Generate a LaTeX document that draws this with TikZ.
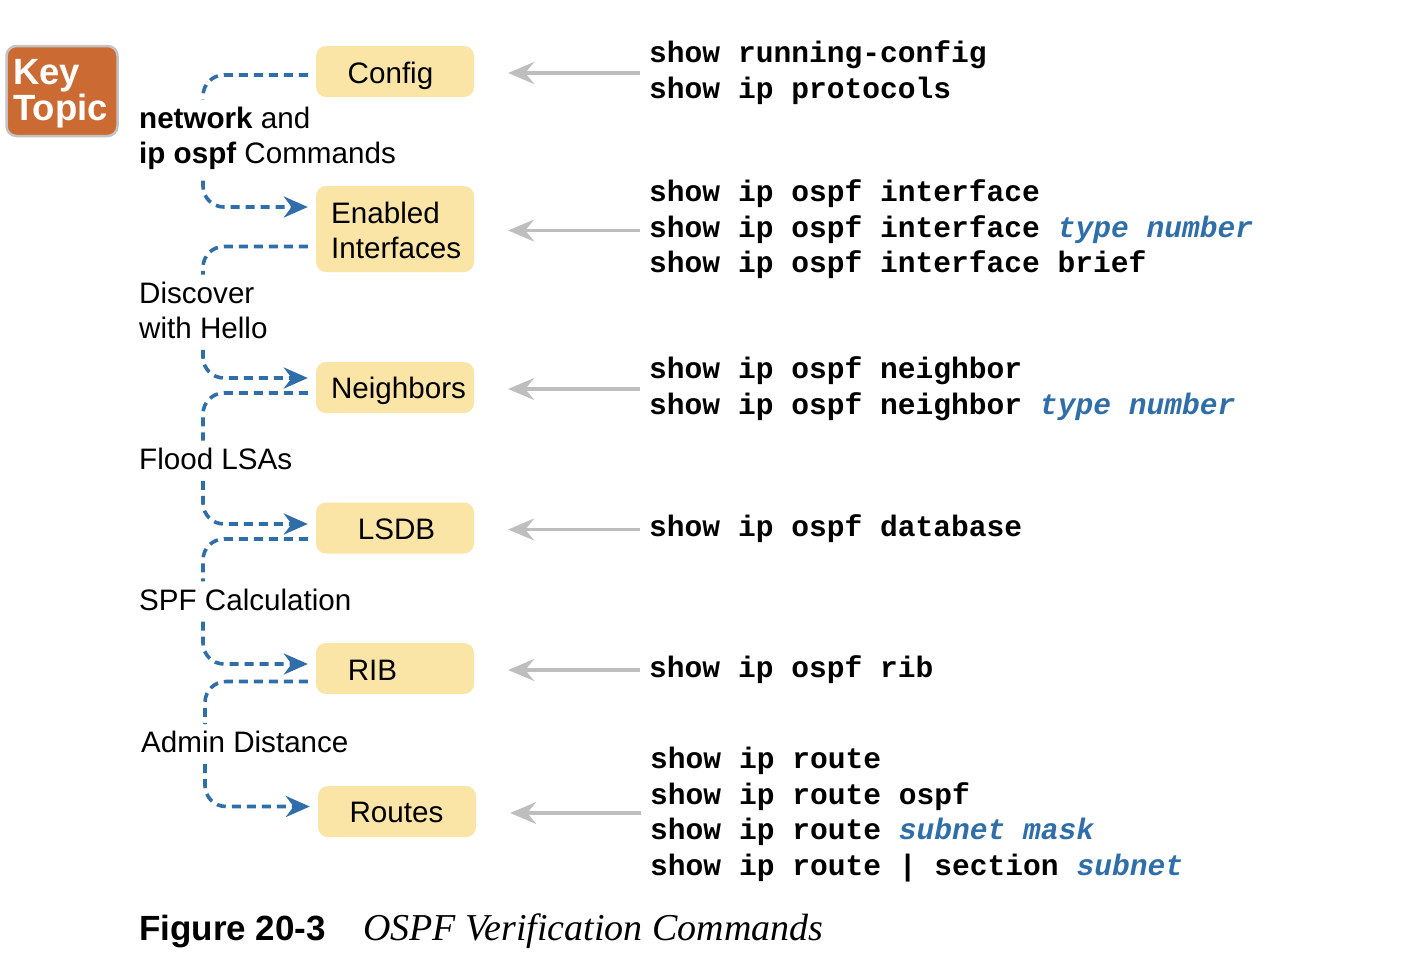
\documentclass[tikz,border=0pt]{standalone}
\usepackage{fontspec}
\setmainfont{Liberation Sans}
\newfontfamily\cmdfont{Liberation Mono}
\newfontfamily\capfont{Liberation Serif}
\usetikzlibrary{calc,arrows.meta}

\definecolor{stagefill}{RGB}{250,229,167}
\definecolor{flowblue}{RGB}{47,110,168}
\definecolor{cmdgray}{RGB}{190,190,190}
\definecolor{keyorange}{RGB}{204,106,52}
\definecolor{keyrim}{RGB}{195,195,195}

\tikzset{
 stage/.style={fill=stagefill, rounded corners=10pt, minimum width=158pt, minimum height=51pt, inner sep=0pt},
 stagetext/.style={anchor=base, inner sep=0pt, font=\fontsize{29.6}{35}\selectfont},
 steplabel/.style={anchor=base west, inner sep=0pt, align=left, font=\fontsize{29.6}{35}\selectfont},
 cmds/.style={anchor=base west, inner sep=0pt, align=left, font=\cmdfont\bfseries\fontsize{29.6}{35.5}\selectfont},
 flow/.style={draw=flowblue, line width=3.6pt, dash pattern=on 9pt off 6pt, rounded corners=21pt},
 flowin/.style={flow, -{Stealth[length=24pt, width=21pt]}},
 look/.style={draw=cmdgray, line width=3.5pt, -{Stealth[length=26pt, width=22pt, inset=9pt]}},
}
\newcommand{\argtxt}[1]{\textcolor{flowblue}{\itshape #1}}

\begin{document}
\begin{tikzpicture}[x=1pt,y=-1pt]
\fill[white] (0,0) rectangle (1420,956);
\useasboundingbox (0,0) rectangle (1420,956);

\begin{scope} %key topic
 \node[fill=keyorange, draw=keyrim, line width=2.5pt, rounded corners=10pt,
   minimum width=111pt, minimum height=90pt] (key) at (62,91) {};
 \node[anchor=base west, inner sep=0pt, align=left, text=white,
   font=\bfseries\fontsize{36.5}{33}\selectfont] (keyt) at (13,120) {Key\\Topic};
\end{scope}

\begin{scope} %stages
 \node[stage] (cfg) at (395,71.5) {};
 \node[stage, minimum height=86pt] (ena) at (395,229) {};
 \node[stage] (nbr) at (395,387.5) {};
 \node[stage] (lsdb) at (395,528) {};
 \node[stage] (rib) at (395,668.5) {};
 \node[stage] (rts) at (397,811.5) {};
 \node[stagetext] (cfgt) at (390.5,83.5) {Config};
 \node[stagetext, anchor=base west, align=left] (enat) at (331,258.5) {Enabled\\Interfaces};
 \node[stagetext] (nbrt) at (398.5,398.5) {Neighbors};
 \node[stagetext] (lsdbt) at (396.5,539.5) {LSDB};
 \node[stagetext] (ribt) at (372.5,680.5) {RIB};
 \node[stagetext] (rtst) at (396.5,822.5) {Routes};
\end{scope}

\begin{scope} %steps
 \node[steplabel] (lbl1) at (139,163.3) {\textbf{network} and\\\textbf{ip ospf} Commands};
 \node[steplabel] (lbl2) at (139,338.3) {Discover\\with Hello};
 \node[steplabel] (lbl3) at (139,469.3) {Flood LSAs};
 \node[steplabel] (lbl4) at (139,610) {SPF Calculation};
 \node[steplabel] (lbl5) at (141,752.7) {Admin Distance};
 \foreach \a/\l/\b/\ao/\bi in {cfg/lbl1/ena/-3.5/22, ena/lbl2/nbr/-17.5/9.5,
   nbr/lbl3/lsdb/-5.5/4, lsdb/lbl4/rib/-11/4.5, rib/lbl5/rts/-13/5}
 {
 \draw[flow] ([xshift=-8pt,yshift=\ao pt]\a.west) -| ([xshift=64pt,yshift=7pt]\l.north west);
 \draw[flowin] ([xshift=64pt,yshift=-11pt]\l.south west) |- ([xshift=-8pt,yshift=\bi pt]\b.west);
 }
\end{scope}

\begin{scope} %commands
 \node[cmds] (c1) at (649,98) {show running-config\\show ip protocols};
 \node[cmds] (c2) at (649,272.5) {show ip ospf interface\\show ip ospf interface \argtxt{type number}\\show ip ospf interface brief};
 \node[cmds] (c3) at (649,414) {show ip ospf neighbor\\show ip ospf neighbor \argtxt{type number}};
 \node[cmds] (c4) at (649,536.5) {show ip ospf database};
 \node[cmds] (c5) at (649,677.5) {show ip ospf rib};
 \node[cmds] (c6) at (650,875) {show ip route\\show ip route ospf\\show ip route \argtxt{subnet mask}\\show ip route | section \argtxt{subnet}};
 \foreach \c/\b in {c1/cfg, c2/ena, c3/nbr, c4/lsdb, c5/rib, c6/rts}
 \draw[look] ($(\c.west |- \b.east)+(-9,1.5)$) -- ($(\b.east)+(34,1.5)$);
\end{scope}

%caption
\node[anchor=base west, inner sep=0pt, font=\bfseries\fontsize{35}{40}\selectfont] (fig) at (139,940) {Figure 20-3};
\node[anchor=base west, inner sep=0pt, font=\capfont\itshape\fontsize{38}{40}\selectfont] (figcap) at (363,940) {OSPF Verification Commands};

\end{tikzpicture}
\end{document}
